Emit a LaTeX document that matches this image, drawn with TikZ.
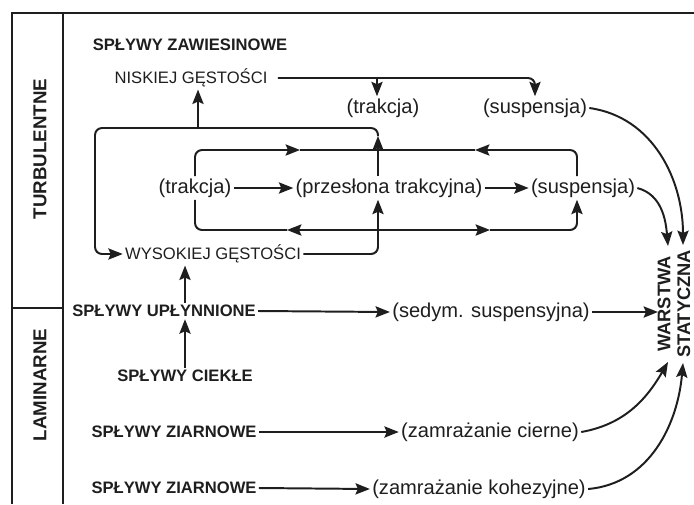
\documentclass[tikz,border=0pt]{standalone}
\usepackage{fontspec}
\setmainfont{Liberation Sans}
\usepackage{tikz}
\usetikzlibrary{arrows.meta,calc}
\definecolor{inkGray}{HTML}{1E1E1E}
\tikzset{
  frame line/.style={draw=inkGray, line width=1.8pt},
  link/.style={draw=inkGray, line width=1.4pt},
  flow/.style={link, -{Stealth[length=3.6mm, width=2.8mm, inset=0.6mm]}},
  bend flow/.style={flow, rounded corners=5pt},
  zone label/.style={rotate=90, font=\fontsize{13.3}{15}\selectfont\bfseries,
    text=inkGray},
  flow type/.style={font=\fontsize{11.8}{14}\selectfont\bfseries,
    text=inkGray, inner sep=1.5pt},
  density/.style={font=\fontsize{11.8}{14}\selectfont, text=inkGray,
    inner sep=1.5pt},
  process/.style={font=\fontsize{14.3}{16}\selectfont, text=inkGray,
    inner sep=1.5pt},
  deposit/.style={rotate=90, align=center,
    font=\fontsize{13}{14}\selectfont\bfseries, text=inkGray, inner sep=0pt}
}

\begin{document}
\begin{tikzpicture}[x=0.25mm, y=-0.25mm]
  \useasboundingbox (0,0) rectangle (694,504);
  % frame with the flow regime column
  \draw[frame line] (12,504) |- (694,13);
  \draw[frame line] (63,13) -- (63,504);
  \draw[frame line] (12,308) -- (63,308);
  \node[zone label] (turb) at (40,149) {TURBULENTNE};
  \node[zone label] (lam) at (40,385) {LAMINARNE};

  \node[flow type] (zaw) at (190,45) {SPŁYWY ZAWIESINOWE};
  \node[density] (nis) at (191,78) {NISKIEJ GĘSTOŚCI};
  \node[process] (trk2) at (383,108) {(trakcja)};
  \node[process] (sus2) at (535,108) {(suspensja)};
  \node[process] (trk) at (195,188) {(trakcja)};
  \node[process] (prz) at (389,188) {(przesłona trakcyjna)};
  \node[process] (sus) at (583,188) {(suspensja)};
  \node[density] (wys) at (213,254) {WYSOKIEJ GĘSTOŚCI};
  \node[flow type] (upl) at (164,311) {SPŁYWY UPŁYNNIONE};
  \node[process] (sed) at (491,312) {(sedym. suspensyjna)};
  \node[flow type] (ciek) at (185,376) {SPŁYWY CIEKŁE};
  \node[flow type] (ziar1) at (174,432) {SPŁYWY ZIARNOWE};
  \node[process] (cier) at (490,432) {(zamrażanie cierne)};
  \node[flow type] (ziar2) at (174,488) {SPŁYWY ZIARNOWE};
  \node[process] (koh) at (479,489) {(zamrażanie kohezyjne)};
  \node[deposit] (ws) at (674,304) {WARSTWA\\STATYCZNA};

  \coordinate (nisB) at (377,78);
  \coordinate (toNis) at (198,128);
  \coordinate (loopTR) at (378,136);
  \coordinate (loopL) at (95,128);
  \coordinate (topL) at (300,150);
  \coordinate (topR) at (475,150);
  \coordinate (botM) at (378,230);
  \coordinate (botL) at (287,230);
  \coordinate (botR) at (490,230);
  \coordinate (wsA) at (668,246);
  \coordinate (wsB) at (683,245);
  \coordinate (wsC) at (658,312);
  \coordinate (wsD) at (668,362);
  \coordinate (wsE) at (683,363);

  % low density suspension flows
  \draw[bend flow] ($(nis.east)+(8,0)$) -| (sus2.north);
  \draw[flow] (nisB) -- (nisB |- trk2.north);
  \draw[flow] (toNis) -- (toNis |- nis.south);
  \draw[flow] (prz.north -| loopTR) -- (loopTR);
  \draw[bend flow] (loopTR) |- (loopL) |- (wys.west);

  % high density cell
  \draw[bend flow] (trk.north) |- (topL);
  \draw[bend flow] ($(sus.north)+(-6,0)$) |- (topR);
  \draw[link] (topL) -- (topR);
  \draw[flow] (trk.east) -- (prz.west);
  \draw[flow] (prz.east) -- (sus.west);
  \draw[flow] (botM) -- (botL);
  \draw[link, rounded corners=5pt] (botL) -| (trk.south);
  \draw[flow] (botM) -- (botR);
  \draw[bend flow] (botR) -| ($(sus.south)+(-6,0)$);
  \draw[bend flow] (wys.east) -| (prz.south -| botM);

  % fluidized, liquefied and grain flows
  \draw[flow] (upl.east) -- (sed.west);
  \draw[flow] (sed.east) -- (wsC);
  \draw[flow] (ciek.north) -- (ciek.north |- upl.south);
  \draw[flow] (ciek.north |- upl.north) -- (ciek.north |- wys.south);
  \draw[flow] (ziar1.east) -- (cier.west);
  \draw[flow] (ziar2.east) -- (koh.west);

  % deposition
  \draw[flow] (sus2.east) to[out=-8, in=90] (wsB);
  \draw[flow] (sus.east) to[out=-15, in=95] (wsA);
  \draw[flow] (cier.east) to[out=10, in=-120] (wsD);
  \draw[flow] (koh.east) to[out=5, in=-95] (wsE);
\end{tikzpicture}
\end{document}
